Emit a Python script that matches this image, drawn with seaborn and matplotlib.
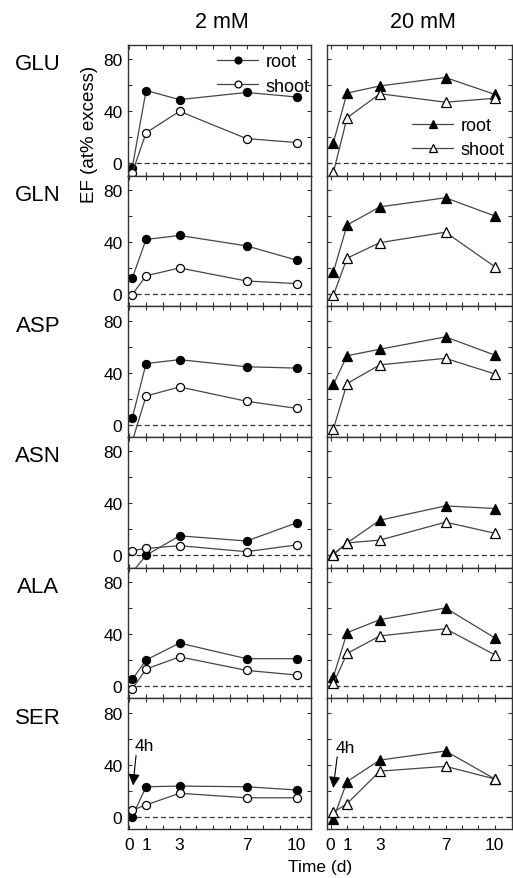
import matplotlib
matplotlib.use("Agg")
import matplotlib.pyplot as plt
import numpy as np
import pandas as pd
import seaborn as sns

# ---------------- data ----------------
days = [0.17, 1, 3, 7, 10]
amino_acids = ["GLU", "GLN", "ASP", "ASN", "ALA", "SER"]
concentrations = ["2 mM", "20 mM"]
x_tick_labels = ["0", "1", "3", "7", "10"]

root_2mM = {
    "GLU": [-3.5, 56, 49, 54.5, 51],
    "GLN": [12, 42, 45, 37, 26],
    "ASP": [5, 47, 50, 44.5, 43.5],
    "ASN": [-13, 0, 15, 11, 25],
    "ALA": [5, 20, 33, 21, 21],
    "SER": [0, 23, 23.5, 23, 20.5],
}
shoot_2mM = {
    "GLU": [-7.5, 23.5, 40, 19, 16],
    "GLN": [-0.5, 14, 20, 10, 8],
    "ASP": [-13, 22, 29, 18, 12.5],
    "ASN": [3.6, 5.3, 7.4, 2.8, 8],
    "ALA": [-2.3, 13, 22.4, 12, 8.4],
    "SER": [5, 9, 18, 14.5, 14.5],
}
root_20mM = {
    "GLU": [16, 54, 59.5, 66, 53],
    "GLN": [17, 53, 67, 74, 60],
    "ASP": [31, 53, 58, 67.5, 53.5],
    "ASN": [1, 9.5, 27, 38, 36],
    "ALA": [7, 41, 51, 60, 37],
    "SER": [-1.5, 27, 43.5, 50.5, 29],
}
shoot_20mM = {
    "GLU": [-7, 35, 53.5, 47, 50],
    "GLN": [-1, 27.5, 39.5, 47.5, 21],
    "ASP": [-3.3, 31.6, 46, 51, 39],
    "ASN": [0.5, 9.5, 11.7, 25.5, 17],
    "ALA": [2, 25, 38.5, 44, 24],
    "SER": [3.3, 10, 35, 38.7, 29],
}

rows = []
for conc, organ, table in [("2 mM", "root", root_2mM), ("2 mM", "shoot", shoot_2mM),
                           ("20 mM", "root", root_20mM), ("20 mM", "shoot", shoot_20mM)]:
    for aa in amino_acids:
        for d, v in zip(days, table[aa]):
            rows.append(dict(conc=conc, organ=organ, aa=aa, day=d, ef=v))
df = pd.DataFrame(rows)

# ---------------- style ----------------
sns.set_style("ticks")
plt.rcParams["font.family"] = ["Liberation Sans", "DejaVu Sans"]
plt.rcParams["text.color"] = "black"
plt.rcParams["xtick.direction"] = "in"
plt.rcParams["ytick.direction"] = "in"
plt.rcParams["axes.edgecolor"] = "#333333"
plt.rcParams["axes.linewidth"] = 1.0

W, H = 513, 879
fig = plt.figure(figsize=(W / 100, H / 100), dpi=100)

top0 = 46.0
row_h = (830.0 - 46.0) / 6
col_geom = [(128.0, 183.5, (-0.08, 10.88)), (327.0, 185.0, (-0.22, 11.05))]
ylim = (-9.5, 91)

line_col = "#454545"
leg_kw = dict(frameon=False, fontsize=13, handlelength=2.3, handletextpad=0.4,
              labelspacing=0.4, borderaxespad=0, borderpad=0, markerscale=0.85)

for i, aa in enumerate(amino_acids):
    for j, conc in enumerate(concentrations):
        x0, w, xl = col_geom[j]
        top = top0 + i * row_h
        ax = fig.add_axes([x0 / W, 1 - (top + row_h) / H, w / W, row_h / H])
        marker = "o" if j == 0 else "^"
        ms = 5.8 if j == 0 else 6.5
        for organ in ["root", "shoot"]:
            sub = df[(df.aa == aa) & (df.conc == conc) & (df.organ == organ)]
            sns.lineplot(data=sub, x="day", y="ef", ax=ax, estimator=None, sort=False,
                         errorbar=None, color=line_col, lw=0.9, marker=marker,
                         markersize=ms, markeredgecolor="black", markeredgewidth=0.9,
                         markerfacecolor="black" if organ == "root" else "white",
                         label=organ, legend=False)
        ax.axhline(0, ls="--", color="#333333", lw=0.9, dashes=(4, 2.5), zorder=0)
        ax.set_xlim(*xl)
        ax.set_ylim(*ylim)
        ax.set_xticks(range(0, 11))
        if i == 5:
            ax.set_xticklabels([str(k) if str(k) in x_tick_labels else "" for k in range(11)],
                               fontsize=12.5)
        else:
            ax.set_xticklabels([])
        ax.set_yticks([0, 20, 40, 60, 80])
        if j == 0:
            ax.set_yticklabels(["0", "", "40", "", "80"], fontsize=12.5)
        else:
            ax.set_yticklabels([])
        ax.tick_params(axis="both", which="both", direction="in", length=3, width=0.8,
                       top=True, right=True, colors="#333333", labelcolor="black")
        ax.tick_params(axis="x", pad=6)
        ax.tick_params(axis="y", pad=4)
        ax.set_xlabel("")
        ax.set_ylabel("")
        for s in ax.spines.values():
            s.set_visible(True)

        if i == 0:
            if j == 0:
                ax.legend(loc="upper right", bbox_to_anchor=(0.99, 0.935), **leg_kw)
            else:
                ax.legend(loc="upper right", bbox_to_anchor=(0.96, 0.45), **leg_kw)
        if i == 5:
            if j == 0:
                ax.text(0.9, 55, "4h", ha="center", va="center", fontsize=12.5)
                ax.annotate("", xy=(0.22, 24), xytext=(0.4, 47),
                            arrowprops=dict(arrowstyle="-|>", color="black", lw=0.8,
                                            mutation_scale=17, shrinkA=0, shrinkB=0))
            else:
                ax.text(0.87, 53, "4h", ha="center", va="center", fontsize=12.5)
                ax.annotate("", xy=(0.16, 22), xytext=(0.4, 46),
                            arrowprops=dict(arrowstyle="-|>", color="black", lw=0.8,
                                            mutation_scale=17, shrinkA=0, shrinkB=0))

    fig.text(38 / W, 1 - (top0 + i * row_h + 19) / H, aa, ha="center", va="center",
             fontsize=16)

fig.text(222 / W, 1 - 22 / H, "2 mM", ha="center", va="center", fontsize=15.5)
fig.text(423 / W, 1 - 22 / H, "20 mM", ha="center", va="center", fontsize=15.5)
fig.text(90 / W, 1 - 134 / H, "EF (at% excess)", rotation=90, ha="center", va="center",
         fontsize=13.5)
fig.text(320 / W, 1 - 868 / H, "Time (d)", ha="center", va="center", fontsize=12.5)

fig.savefig("out.png", dpi=100)
